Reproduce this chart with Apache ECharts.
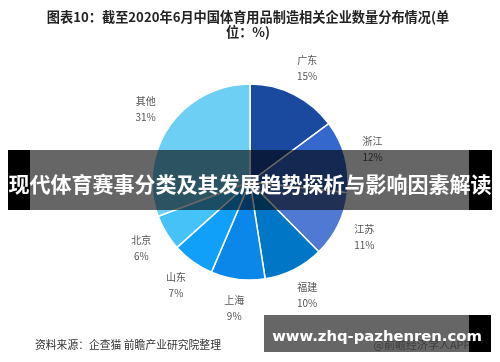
<!DOCTYPE html>
<html>
<head>
<meta charset="utf-8">
<script src="https://cdn.jsdelivr.net/npm/echarts@6/dist/echarts.min.js"></script>
<style>html,body{margin:0;padding:0;background:#fff}#c{width:500px;height:362px}</style>
</head>
<body>
<div id="c"></div>
<script>
const categories = ['广东', '浙江', '江苏', '福建', '上海', '山东', '北京', '其他'];
const values = [15, 12, 11, 10, 9, 7, 6, 31];
const sliceColors = ['#1a4aa0', '#3468cc', '#5079d3', '#0077c6', '#0a87e8', '#11a0f9', '#45c3f9', '#6ccff3'];
const titleText = '图表10：截至2020年6月中国体育用品制造相关企业数量分布情况(单\n位：%)';
const sourceText = '资料来源：企查猫 前瞻产业研究院整理';
const bannerText = '现代体育赛事分类及其发展趋势探析与影响因素解读';
const siteText = 'www.zhq-pazhenren.com';
const appText = '@前瞻经济学人APP';

const chart = echarts.init(document.getElementById('c'), null, {renderer: 'canvas'});
const pieData = categories.map((n, i) => {
  const d = {name: n, value: values[i], itemStyle: {color: sliceColors[i]}};
  if (n === '北京') {
    d.label = {show: true, formatter: ' ', position: 'outside'};
    d.labelLine = {show: true, length: 5, length2: 8, smooth: true, lineStyle: {color: '#aaa', width: 1}};
  }
  return d;
});
const labelData = categories.map((n, i) => ({name: n, value: values[i]}));
const CJK = '"Noto Sans CJK SC", "Noto Sans", sans-serif';

chart.setOption({
  animation: false,
  series: [
    {
      type: 'pie',
      center: [250, 182],
      radius: [0, 98],
      startAngle: 90,
      clockwise: true,
      silent: true,
      itemStyle: {borderColor: '#fff', borderWidth: 1.5},
      label: {show: false},
      labelLine: {show: false},
      data: pieData,
      z: 2
    },
    {
      type: 'pie',
      center: [250, 182],
      radius: [86, 162],
      startAngle: 90,
      clockwise: true,
      silent: true,
      avoidLabelOverlap: false,
      itemStyle: {color: 'rgba(0,0,0,0)'},
      emphasis: {disabled: true},
      label: {
        show: true, position: 'inside', formatter: '{b}\n{c}%',
        color: '#555', fontSize: 10, lineHeight: 16, fontFamily: CJK
      },
      labelLine: {show: false},
      data: labelData,
      z: 3
    }
  ],
  graphic: [
    {type: 'text', x: 248, y: 9, z: 50,
      style: {text: titleText, font: 'bold 13.2px ' + CJK, fill: '#222', align: 'center', verticalAlign: 'top', lineHeight: 15}},
    {type: 'text', x: 35, y: 345, z: 50,
      style: {text: sourceText, font: '10.8px ' + CJK, fill: '#333', verticalAlign: 'middle'}},
    // banner
    {type: 'rect', shape: {x: 8, y: 150, width: 22, height: 60}, style: {fill: '#000'}, z: 100},
    {type: 'rect', shape: {x: 30, y: 150, width: 439, height: 60}, style: {fill: 'rgba(0,0,0,0.6)'}, z: 100},
    {type: 'rect', shape: {x: 469, y: 150, width: 23, height: 60}, style: {fill: '#000'}, z: 100},
    {type: 'text', x: 250, y: 184, z: 101,
      style: {text: bannerText, font: 'bold 21px ' + CJK, fill: '#fff', align: 'center', verticalAlign: 'middle'}},
    // bottom badge
    {type: 'text', x: 422, y: 345, z: 99,
      style: {text: appText, font: '11px ' + CJK, fill: '#999', align: 'center', verticalAlign: 'middle'}},
    {type: 'rect', shape: {x: 264, y: 315, width: 205, height: 37}, style: {fill: 'rgba(0,0,0,0.6)'}, z: 100},
    {type: 'rect', shape: {x: 469, y: 315, width: 22, height: 37}, style: {fill: '#000'}, z: 100},
    {type: 'text', x: 377, y: 337, z: 101,
      style: {text: siteText, font: 'bold 14.8px "DejaVu Sans", sans-serif', fill: '#fff', align: 'center', verticalAlign: 'middle'}}
  ]
});
</script>
</body>
</html>
